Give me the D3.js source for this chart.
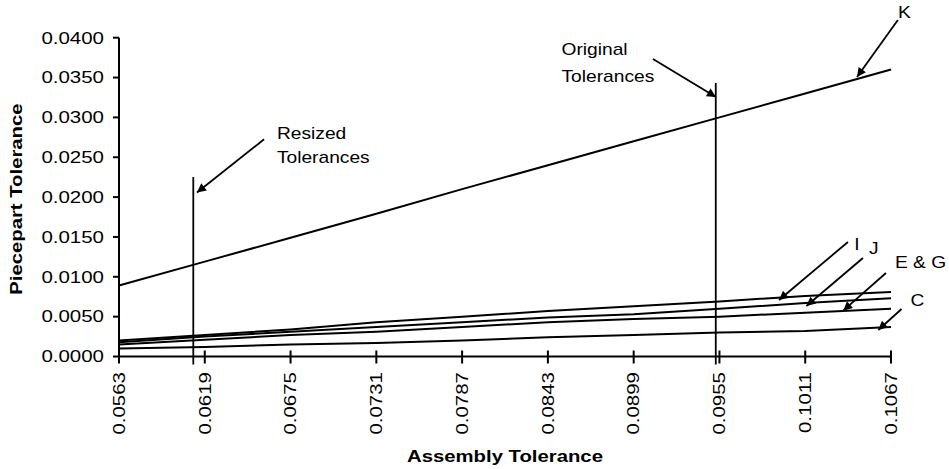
<!DOCTYPE html>
<html>
<head>
<meta charset="utf-8">
<script src="https://cdn.jsdelivr.net/npm/d3@7"></script>
<style>
  html, body { margin: 0; padding: 0; background: #fff; }
  svg text { font-family: "Liberation Sans", Arial, sans-serif; fill: #000; }
</style>
</head>
<body>
<svg id="chart" width="949" height="469"></svg>
<script>
// ---- data ----
const assemblyTol = [0.0563, 0.0619, 0.0675, 0.0731, 0.0787, 0.0843, 0.0899, 0.0955, 0.1011, 0.1067];
const xTickLabels = ["0.0563", "0.0619", "0.0675", "0.0731", "0.0787", "0.0843", "0.0899", "0.0955", "0.1011", "0.1067"];
const yTicks = [0, 0.005, 0.010, 0.015, 0.020, 0.025, 0.030, 0.035, 0.040];
const seriesK  = [0.0089, 0.0119, 0.0149, 0.0179, 0.0210, 0.0240, 0.0270, 0.0300, 0.0330, 0.0360];
const seriesI  = [0.0020, 0.0027, 0.0034, 0.0043, 0.0050, 0.0057, 0.0063, 0.0069, 0.0076, 0.0081];
const seriesJ  = [0.0018, 0.0025, 0.0031, 0.0037, 0.0043, 0.0049, 0.0053, 0.0060, 0.0067, 0.0073];
const seriesEG = [0.0015, 0.0021, 0.0027, 0.0031, 0.0037, 0.0043, 0.0047, 0.0050, 0.0055, 0.0060];
const seriesC  = [0.0010, 0.0012, 0.0015, 0.0017, 0.0020, 0.0024, 0.0027, 0.0030, 0.0032, 0.0037];
const seriesNames = ["K", "I", "J", "E & G", "C"];
// reference lines: [x, yTop]
const refLines = [[0.06115, 0.02252], [0.09526, 0.03432]];
// annotation arrows: [x1, y1, x2(tip), y2(tip)] in data units
const arrows = [
  [0.10715, 0.04222, 0.10448, 0.03507],   // K
  [0.09116, 0.03733, 0.09527, 0.03256],   // Original
  [0.06577, 0.02725, 0.06139, 0.02058],   // Resized
  [0.10389, 0.01437, 0.09939, 0.00709],   // I
  [0.10487, 0.01236, 0.10118, 0.00634],   // J
  [0.10637, 0.01048, 0.10358, 0.00575],   // E & G
  [0.10739, 0.00596, 0.10587, 0.00332]    // C
];
// annotation labels: [text, x, y(baseline)] in data units
const labels = [
  ["K", 0.10715, 0.04247],
  ["Original", 0.08519, 0.03783],
  ["Tolerances", 0.08519, 0.03450],
  ["Resized", 0.06661, 0.02735],
  ["Tolerances", 0.06661, 0.02422],
  ["I", 0.10430, 0.01330],
  ["J", 0.10526, 0.01286],
  ["E & G", 0.10696, 0.01114],
  ["C", 0.10798, 0.00634]
];

// ---- layout ----
const svg = d3.select("#chart");
const mLeft = 119, mRight = 891, mTop = 37.7, mBottom = 356.5;
const x = d3.scaleLinear().domain([0.0563, 0.1067]).range([mLeft, mRight]);
const y = d3.scaleLinear().domain([0, 0.04]).range([mBottom, mTop]);
const SX = 1.28;

svg.append("defs").append("marker")
  .attr("id", "arrow").attr("viewBox", "0 0 10 10")
  .attr("refX", 10).attr("refY", 5)
  .attr("markerUnits", "userSpaceOnUse")
  .attr("markerWidth", 12).attr("markerHeight", 9)
  .attr("orient", "auto")
  .append("path").attr("d", "M0,0 L10,5 L0,10 Z").attr("fill", "#000");

// series
const allSeries = [seriesK, seriesI, seriesJ, seriesEG, seriesC];
const line = d3.line().x((d, i) => x(assemblyTol[i])).y(d => y(d));
svg.append("g").selectAll("path").data(allSeries).join("path")
  .attr("d", line).attr("fill", "none").attr("stroke", "#000").attr("stroke-width", 2)
  .attr("data-name", (d, i) => seriesNames[i]);

// reference vertical lines
svg.append("g").selectAll("line").data(refLines).join("line")
  .attr("x1", d => x(d[0])).attr("x2", d => x(d[0]))
  .attr("y1", d => y(d[1])).attr("y2", mBottom + 8)
  .attr("stroke", "#000").attr("stroke-width", 1.8);

// y axis
const yAxis = svg.append("g");
yAxis.append("line").attr("x1", mLeft).attr("x2", mLeft).attr("y1", y(0.04)).attr("y2", mBottom)
  .attr("stroke", "#000").attr("stroke-width", 2);
yAxis.selectAll("line.tick").data(yTicks).join("line").attr("class", "tick")
  .attr("x1", mLeft - 6).attr("x2", mLeft).attr("y1", d => y(d)).attr("y2", d => y(d))
  .attr("stroke", "#000").attr("stroke-width", 2);
yAxis.selectAll("text").data(yTicks).join("text")
  .attr("text-anchor", "end").attr("font-size", 16)
  .attr("transform", d => `translate(104,${y(d) + 5.8}) scale(${SX},1)`)
  .text(d => d3.format(".4f")(d));

// x axis
const xAxis = svg.append("g");
xAxis.append("line").attr("x1", mLeft).attr("x2", mRight).attr("y1", mBottom).attr("y2", mBottom)
  .attr("stroke", "#000").attr("stroke-width", 2);
xAxis.selectAll("line.tick").data(assemblyTol).join("line").attr("class", "tick")
  .attr("x1", d => x(d)).attr("x2", d => x(d)).attr("y1", mBottom - 6).attr("y2", mBottom + 7)
  .attr("stroke", "#000").attr("stroke-width", 2);
xAxis.selectAll("text").data(assemblyTol).join("text")
  .attr("text-anchor", "end").attr("font-size", 16)
  .attr("transform", d => `translate(${x(d) + 5.8},372) rotate(-90) scale(${SX},1)`)
  .text((d, i) => xTickLabels[i]);

// axis titles
svg.append("text").attr("text-anchor", "middle").attr("font-size", 16).attr("font-weight", "bold")
  .attr("transform", `translate(${(mLeft + mRight) / 2},461.5) scale(1.27,1)`)
  .text("Assembly Tolerance");
svg.append("text").attr("text-anchor", "middle").attr("font-size", 16).attr("font-weight", "bold")
  .attr("transform", `translate(21.5,${(mTop + mBottom) / 2 + 2}) rotate(-90) scale(1.27,1)`)
  .text("Piecepart Tolerance");

// arrows
svg.append("g").selectAll("line").data(arrows).join("line")
  .attr("x1", d => x(d[0])).attr("y1", d => y(d[1]))
  .attr("x2", d => x(d[2])).attr("y2", d => y(d[3]))
  .attr("stroke", "#000").attr("stroke-width", 1.8)
  .attr("marker-end", "url(#arrow)");

// labels
svg.append("g").selectAll("text").data(labels).join("text")
  .attr("font-size", 16)
  .attr("transform", d => `translate(${x(d[1])},${y(d[2])}) scale(1.2,1)`)
  .text(d => d[0]);
</script>
</body>
</html>
